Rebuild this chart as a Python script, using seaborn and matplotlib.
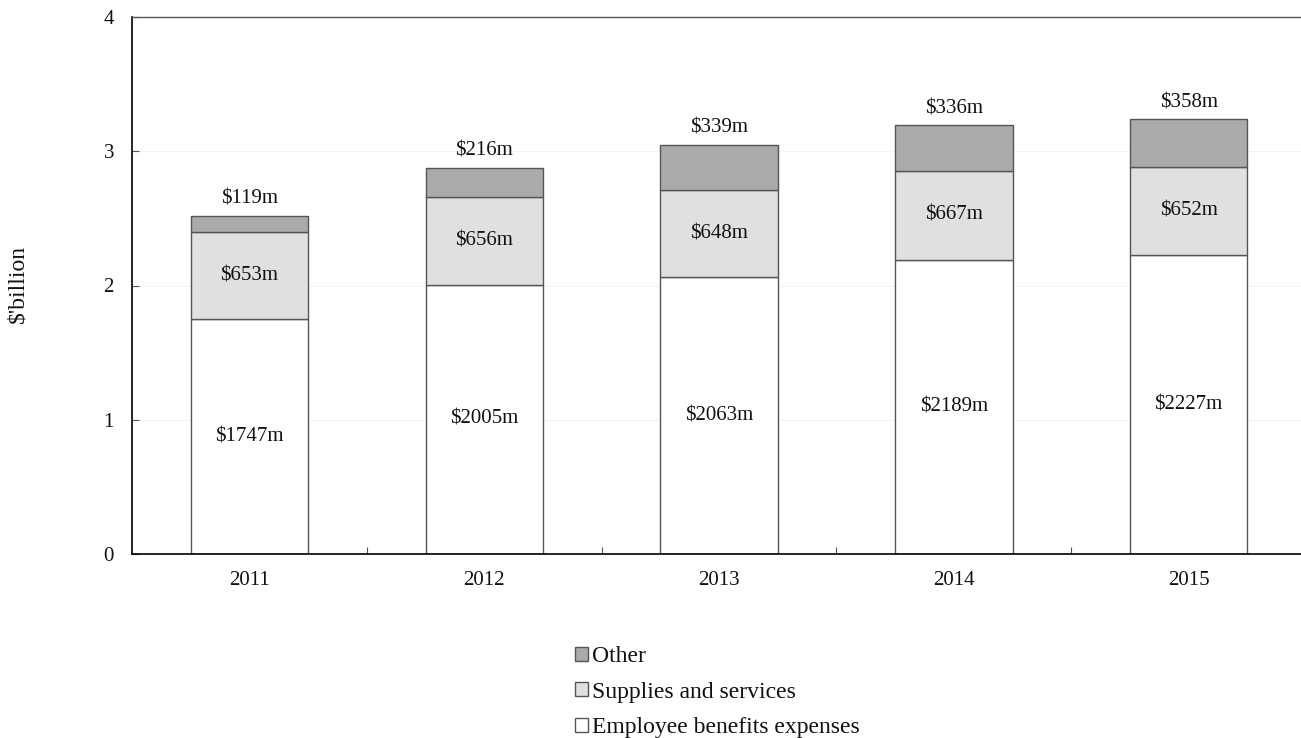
import matplotlib
matplotlib.use("Agg")
import matplotlib.pyplot as plt
import seaborn as sns
import pandas as pd
import numpy as np
from matplotlib.patches import Patch

years = ["2011", "2012", "2013", "2014", "2015"]
employee = [1747, 2005, 2063, 2189, 2227]
supplies = [653, 656, 648, 667, 652]
other = [119, 216, 339, 336, 358]

sns.set_theme(style="white")
plt.rcParams["font.family"] = ["Liberation Serif", "DejaVu Serif"]
plt.rcParams["text.color"] = "#111111"
plt.rcParams["xtick.labelcolor"] = "#111111"
plt.rcParams["ytick.labelcolor"] = "#111111"

df = pd.DataFrame({"year": years,
                   "employee": np.array(employee) / 1000,
                   "supplies": np.array(supplies) / 1000,
                   "other": np.array(other) / 1000})
df["base2"] = df["employee"]
df["base3"] = df["employee"] + df["supplies"]

fig = plt.figure(figsize=(13.01, 7.38), dpi=100)
ax = fig.add_axes([132 / 1301, 1 - 554 / 738, 1174 / 1301, (554 - 17) / 738])

edge = "#555555"
c_emp, c_sup, c_oth = "#ffffff", "#e0e0e0", "#aaaaaa"
sns.barplot(data=df, x="year", y="employee", color=c_emp, width=0.5,
            edgecolor=edge, linewidth=1, saturation=1, ax=ax)
sns.barplot(data=df, x="year", y="supplies", bottom=df["base2"], color=c_sup,
            width=0.5, edgecolor=edge, linewidth=1, saturation=1, ax=ax)
sns.barplot(data=df, x="year", y="other", bottom=df["base3"], color=c_oth,
            width=0.5, edgecolor=edge, linewidth=1, saturation=1, ax=ax)

fs = 15
for i in range(len(years)):
    e, s, o = employee[i] / 1000, supplies[i] / 1000, other[i] / 1000
    ax.text(i, e / 2, f"${employee[i]}m", ha="center", va="center", fontsize=fs)
    ax.text(i, e + s / 2, f"${supplies[i]}m", ha="center", va="center", fontsize=fs)
    ax.text(i, e + s + o + 0.125, f"${other[i]}m", ha="center", va="center", fontsize=fs)

ax.set_xlim(-0.5, 4.5)
ax.set_ylim(0, 4)
ax.set_yticks([0, 1, 2, 3, 4])
ax.yaxis.grid(True, color="#f3f3f3", linewidth=0.8)
ax.set_axisbelow(True)
ax.tick_params(axis="y", direction="in", length=5, width=0.8, color=edge,
               left=True, labelsize=fs, pad=13)
ax.set_xticks(range(len(years)))
ax.set_xticklabels(years)
ax.tick_params(axis="x", which="major", length=0, labelsize=fs, pad=12.5)
ax.set_xticks(np.arange(0.5, 4.6, 1.0), minor=True)
ax.tick_params(axis="x", which="minor", direction="in", length=5, width=0.8,
               color=edge, bottom=True)
ax.set_xlabel("")
ax.set_ylabel("")
fig.text(18 / 1301, 1 - 284 / 738, "$'billion", rotation=90, ha="center",
         va="center", fontsize=17)

for side in ["left", "bottom"]:
    ax.spines[side].set_color("#000000")
    ax.spines[side].set_linewidth(1.2)
ax.spines["top"].set_color(edge)
ax.spines["top"].set_linewidth(1)
ax.spines["right"].set_visible(False)

handles = [Patch(facecolor=c_oth, edgecolor=edge, label="Other"),
           Patch(facecolor=c_sup, edgecolor=edge, label="Supplies and services"),
           Patch(facecolor=c_emp, edgecolor=edge, label="Employee benefits expenses")]
fig.legend(handles=handles, loc="upper left", bbox_to_anchor=(575 / 1301, 1 - 646 / 738),
           frameon=False, fontsize=17, handlelength=0.55, handleheight=0.55,
           handletextpad=0.15, labelspacing=0.62, borderaxespad=0, borderpad=0)

fig.savefig("out.png", dpi=100)
